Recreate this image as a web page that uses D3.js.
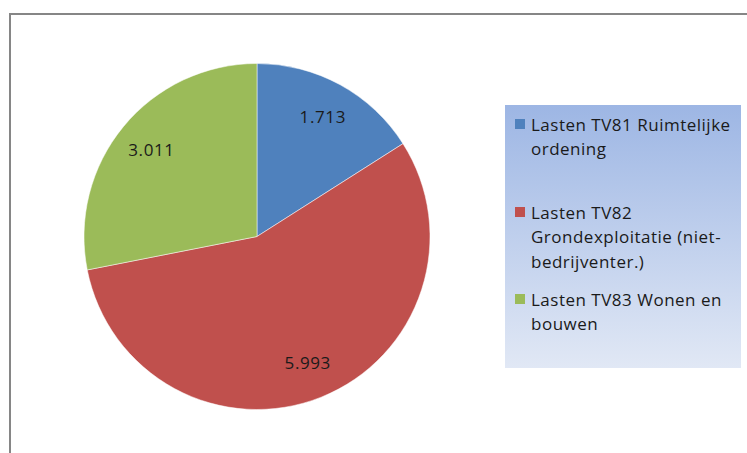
<!DOCTYPE html>
<html>
<head>
<meta charset="utf-8">
<script src="https://cdn.jsdelivr.net/npm/d3@7"></script>
<style>
  body { margin: 0; background: #fff; }
  svg { display: block; font-family: "Open Sans", "Noto Sans", sans-serif; }
</style>
</head>
<body>
<div id="chart"></div>
<script>
// data
var categories = [
  "Lasten TV81 Ruimtelijke ordening",
  "Lasten TV82 Grondexploitatie (niet-bedrijventer.)",
  "Lasten TV83 Wonen en bouwen"
];
var values = [1.713, 5.993, 3.011];
var valueLabels = ["1.713", "5.993", "3.011"];
var legendLines = [
  ["Lasten TV81 Ruimtelijke", "ordening"],
  ["Lasten TV82", "Grondexploitatie (niet-", "bedrijventer.)"],
  ["Lasten TV83 Wonen en", "bouwen"]
];
var colors = ["#4f81bd", "#c0504d", "#9bbb59"];

var svgWidth = 747, svgHeight = 453;

var svg = d3.select("#chart").append("svg")
  .attr("width", svgWidth)
  .attr("height", svgHeight);

var defs = svg.append("defs");
var grad = defs.append("linearGradient")
  .attr("id", "legendGrad")
  .attr("x1", 0).attr("y1", 0).attr("x2", 0).attr("y2", 1);
grad.append("stop").attr("offset", "0%").attr("stop-color", "#9db6e4");
grad.append("stop").attr("offset", "100%").attr("stop-color", "#e1e8f5");

// chart area border (runs off the right and bottom)
svg.append("rect")
  .attr("x", 10)
  .attr("y", 14)
  .attr("width", 760)
  .attr("height", 460)
  .attr("fill", "#fff")
  .attr("stroke", "#868686")
  .attr("stroke-width", 2);

// pie
var cx = 257, cy = 236.5, radius = 173;

var pie = d3.pie().sort(null).value(d => d);
var arcs = pie(values);

var arc = d3.arc().innerRadius(0).outerRadius(radius);
var labelArc = d3.arc().innerRadius(radius * 0.79).outerRadius(radius * 0.79);

var pieGroup = svg.append("g")
  .attr("transform", `translate(${cx}, ${cy})`);

pieGroup.selectAll("path")
  .data(arcs)
  .enter()
  .append("path")
  .attr("d", arc)
  .attr("fill", (d, i) => colors[i])
  .attr("stroke", "#fff")
  .attr("stroke-width", 0.5);

pieGroup.selectAll("text")
  .data(arcs)
  .enter()
  .append("text")
  .attr("transform", d => `translate(${labelArc.centroid(d)})`)
  .attr("text-anchor", "middle")
  .attr("dy", "0.35em")
  .style("font-size", "17px")
  .style("letter-spacing", "0.6px")
  .style("fill", "#1a1a1a")
  .text((d, i) => valueLabels[i]);

// legend
var legend = svg.append("g");
legend.append("rect")
  .attr("x", 505)
  .attr("y", 105)
  .attr("width", 236)
  .attr("height", 263)
  .attr("fill", "url(#legendGrad)");

var entryTops = [125, 213, 300];
var lineHeight = 24.5;

categories.forEach(function(c, i) {
  var g = legend.append("g");
  g.append("rect")
    .attr("x", 515)
    .attr("y", entryTops[i] - 6)
    .attr("width", 10)
    .attr("height", 10)
    .attr("fill", colors[i]);
  legendLines[i].forEach(function(line, j) {
    g.append("text")
      .attr("x", 531)
      .attr("y", entryTops[i] + j * lineHeight)
      .attr("dy", "0.35em")
      .style("font-size", "17px")
      .style("letter-spacing", "0.5px")
      .style("fill", "#1a1a1a")
      .text(line);
  });
});
</script>
</body>
</html>
